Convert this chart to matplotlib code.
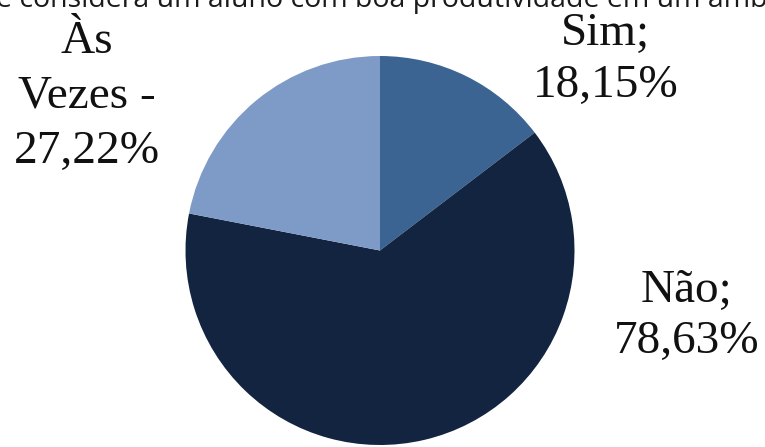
import matplotlib
matplotlib.use("Agg")
import matplotlib.pyplot as plt

# Survey answers and their shares
categories = ["Sim", "Não", "Às Vezes"]
values = [18.15, 78.63, 27.22]
separators = [";", ";", " -"]
colors = ["#3C6493", "#12243F", "#7E9AC6"]

title_text = "e considera um aluno com boa produtividade em um amb"

W, H = 765, 447
fig = plt.figure(figsize=(W / 100, H / 100), dpi=100)

# Pie axes: centre (380, 250.5) px from top, radius 194.5 px
cx, cy, r = 380, 250.5, 194.5
ax = fig.add_axes([(cx - r) / W, (H - cy - r) / H, 2 * r / W, 2 * r / H])
ax.pie(values, colors=colors, startangle=90, counterclock=False,
       wedgeprops=dict(linewidth=0))
ax.set_xlim(-1, 1)
ax.set_ylim(-1, 1)
ax.set_aspect("equal")
ax.axis("off")


def px_text(x, y, s, **kw):
    fig.text(x / W, 1 - y / H, s, **kw)


# Title, running off the top of the canvas
px_text(-4, 7, title_text, ha="left", va="baseline", fontsize=20.5,
        family="Open Sans", color="#1a1a1a")


def fmt(v):
    return f"{v:.2f}".replace(".", ",") + "%"


serif = dict(family="Liberation Serif", fontsize=34, color="#111111",
             ha="center", va="baseline")

# Sim
px_text(605, 45, categories[0] + separators[0], **serif)
px_text(606, 97, fmt(values[0]), **serif)
# Não
px_text(686, 302, categories[1] + separators[1], **serif)
px_text(687, 353, fmt(values[1]), **serif)
# Às Vezes
words = categories[2].split(" ")
px_text(87, 53, words[0], **serif)
px_text(87, 107, words[1] + separators[2], **serif)
px_text(87, 163, fmt(values[2]), **serif)

fig.savefig("out.png", dpi=100)
